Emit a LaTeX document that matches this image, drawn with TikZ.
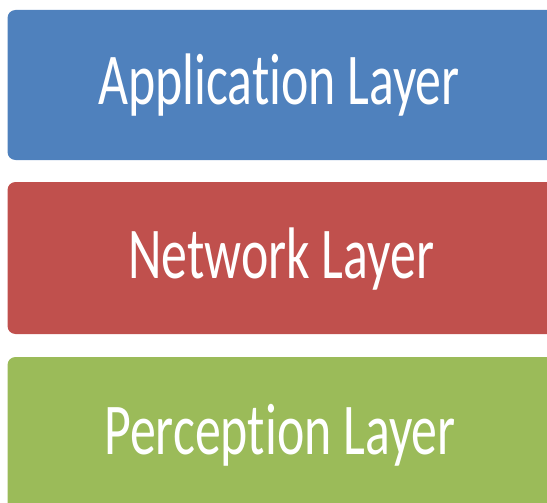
\documentclass[tikz,border=0pt]{standalone}
\usepackage{fontspec}
\setmainfont{Carlito}[Ligatures=NoCommon]
\definecolor{appblue}{HTML}{4F81BD}
\definecolor{netred}{HTML}{C0504D}
\definecolor{pergreen}{HTML}{9BBB59}
\begin{document}
\begin{tikzpicture}[x=1pt,y=-1pt,
  layer/.style={rounded corners=8pt, draw=none},
  ltext/.style={text=white, font=\fontsize{73}{78}\selectfont, anchor=base, inner sep=0pt, xscale=0.71}]
\useasboundingbox (0,0) rectangle (547,503);
\fill[layer, fill=appblue] (7.5,10) rectangle (560,160);
\fill[layer, fill=netred] (7.5,182) rectangle (560,334);
\fill[layer, fill=pergreen] (7.5,357) rectangle (560,520);
\node[ltext] (app) at (279,105) {Application Layer};
\node[ltext] (net) at (281,278) {Network Layer};
\node[ltext] (per) at (280,454) {Perception Layer};
\end{tikzpicture}
\end{document}
